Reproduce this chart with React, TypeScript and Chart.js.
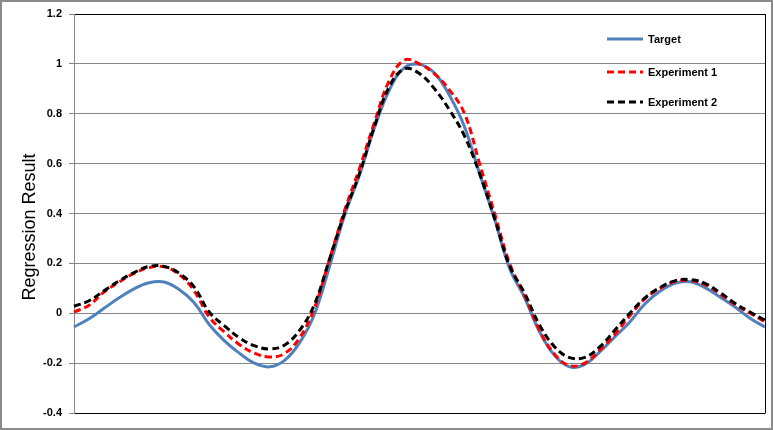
import React, { useEffect, useRef } from 'react';
import { Chart, registerables } from 'chart.js';

Chart.register(...registerables);

// ---- data ----
const seriesNames = ['Target', 'Experiment 1', 'Experiment 2'];

const target = [
  -0.055, -0.022, 0.02, 0.062, 0.098, 0.122, 0.125, 0.095, 0.042, -0.045,
  -0.11, -0.16, -0.2, -0.215, -0.19, -0.12, -0.005, 0.185, 0.39, 0.553,
  0.743, 0.896, 0.985, 0.998, 0.963, 0.873, 0.747, 0.56, 0.377, 0.18,
  0.062, -0.075, -0.17, -0.215, -0.205, -0.155, -0.095, -0.035, 0.037, 0.088,
  0.12, 0.126, 0.103, 0.065, 0.025, -0.02, -0.055,
];

const experiment1 = [
  0.005, 0.032, 0.085, 0.125, 0.16, 0.183, 0.186, 0.155, 0.09, -0.015,
  -0.075, -0.125, -0.16, -0.175, -0.162, -0.1, 0.02, 0.215, 0.41, 0.58,
  0.765, 0.935, 1.015, 1.0, 0.96, 0.895, 0.8, 0.6, 0.4, 0.2,
  0.07, -0.07, -0.165, -0.21, -0.2, -0.148, -0.085, -0.01, 0.058, 0.1,
  0.127, 0.131, 0.115, 0.077, 0.035, 0.0, -0.035,
];

const experiment2 = [
  0.028, 0.05, 0.09, 0.13, 0.163, 0.188, 0.188, 0.16, 0.105, 0.005,
  -0.05, -0.098, -0.13, -0.143, -0.128, -0.07, 0.035, 0.215, 0.4, 0.56,
  0.75, 0.91, 0.98, 0.961, 0.9, 0.815, 0.71, 0.56, 0.38, 0.19,
  0.08, -0.048, -0.135, -0.178, -0.177, -0.135, -0.068, 0.0, 0.062, 0.103,
  0.13, 0.135, 0.12, 0.083, 0.04, 0.005, -0.028,
];

const sampleLabels = target.map((_, i) => String(i));
const yMin = -0.4;
const yMax = 1.2;
const yStep = 0.2;
const yAxisTitle = 'Regression Result';

const seriesColors = ['#4F81BD', '#FF0000', '#000000'];
const seriesDash = [[], [7, 4], [7, 4]];

export default function App() {
  const ref = useRef<HTMLCanvasElement>(null);

  useEffect(() => {
    document.body.style.margin = '0';
    const canvas = ref.current;
    if (!canvas) return;

    const overlay = {
      id: 'overlay',
      afterDraw(chart: any) {
        const { ctx, chartArea } = chart;
        ctx.save();
        // right border of plot area
        ctx.strokeStyle = '#000';
        ctx.lineWidth = 1;
        ctx.beginPath();
        ctx.moveTo(Math.round(chartArea.right) + 0.5, chartArea.top);
        ctx.lineTo(Math.round(chartArea.right) + 0.5, chartArea.bottom + 0.5);
        ctx.stroke();

        // outer frame
        ctx.strokeStyle = '#8a8a8a';
        ctx.lineWidth = 2;
        ctx.strokeRect(1, 1, chart.width - 2, chart.height - 2);

        // y axis title
        ctx.fillStyle = '#000';
        ctx.font = '18px "Liberation Sans", Arial, sans-serif';
        ctx.textAlign = 'center';
        ctx.textBaseline = 'middle';
        ctx.translate(30, 227);
        ctx.rotate(-Math.PI / 2);
        ctx.fillText(yAxisTitle, 0, 0);
        ctx.restore();

        // legend
        ctx.save();
        const x0 = 607;
        const x1 = 643;
        const ys = [39, 72, 102];
        chart.data.datasets.forEach((ds: any, i: number) => {
          ctx.strokeStyle = ds.borderColor;
          ctx.lineWidth = ds.borderWidth;
          ctx.setLineDash(ds.borderDash || []);
          ctx.beginPath();
          ctx.moveTo(x0, ys[i]);
          ctx.lineTo(x1, ys[i]);
          ctx.stroke();
          ctx.setLineDash([]);
          ctx.fillStyle = '#000';
          ctx.font = 'bold 11px "Liberation Sans", Arial, sans-serif';
          ctx.textAlign = 'left';
          ctx.textBaseline = 'middle';
          ctx.fillText(ds.label, 648, ys[i] + 1);
        });
        ctx.restore();
      },
    };

    const mk = (i: number, data: number[], order: number) => ({
      label: seriesNames[i],
      data,
      borderColor: seriesColors[i],
      backgroundColor: seriesColors[i],
      borderWidth: 3,
      borderDash: seriesDash[i],
      borderCapStyle: 'butt' as const,
      pointRadius: 0,
      tension: 0.4,
      fill: false,
      order,
    });

    const chart = new Chart(canvas, {
      type: 'line',
      data: {
        labels: sampleLabels,
        datasets: [mk(0, target, 3), mk(1, experiment1, 2), mk(2, experiment2, 1)],
      },
      options: {
        responsive: false,
        animation: false,
        devicePixelRatio: 1,
        layout: { padding: { top: 14, right: 8, bottom: 17, left: 0 } },
        plugins: {
          legend: { display: false },
          tooltip: { enabled: false },
        },
        scales: {
          x: { display: false },
          y: {
            min: yMin,
            max: yMax,
            afterFit: (s: any) => {
              s.width = 74;
            },
            ticks: {
              stepSize: yStep,
              color: '#000',
              padding: 7,
              font: { family: '"Liberation Sans", Arial, sans-serif', size: 11, weight: 'bold' },
              callback: (v: any) => String(Math.round(Number(v) * 10) / 10),
            },
            grid: {
              color: (c: any) => {
                const v = c.tick ? c.tick.value : 0;
                return Math.abs(v - yMax) < 1e-6 || Math.abs(v - yMin) < 1e-6 ? '#000' : '#868686';
              },
              tickColor: '#868686',
              tickLength: 5,
              lineWidth: 1,
            },
            border: { color: '#868686' },
          },
        },
      },
      plugins: [overlay],
    });

    return () => chart.destroy();
  }, []);

  return (
    <div style={{ width: 773, height: 430, background: '#fff' }}>
      <canvas ref={ref} width={773} height={430} />
    </div>
  );
}
